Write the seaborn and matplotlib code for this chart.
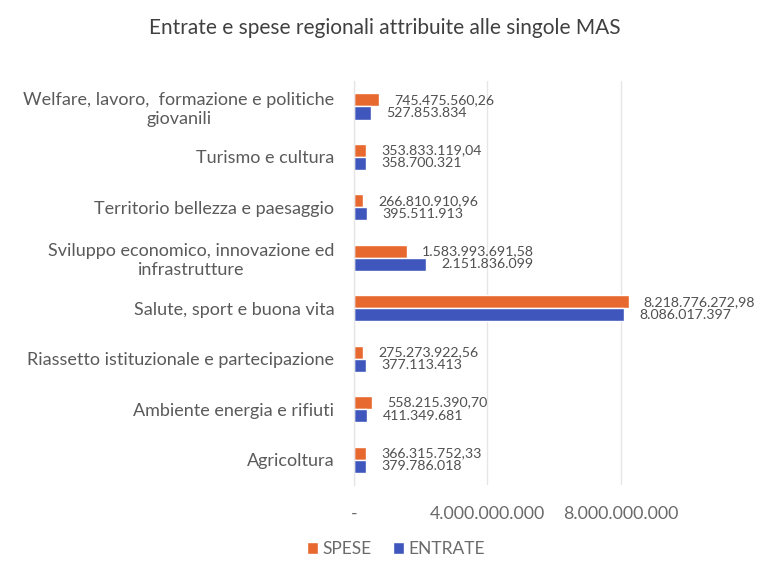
import matplotlib
matplotlib.use("Agg")
import matplotlib.pyplot as plt
import seaborn as sns
import pandas as pd
from matplotlib.patches import Patch

categories = [
    "Welfare, lavoro,  formazione e politiche\ngiovanili",
    "Turismo e cultura",
    "Territorio bellezza e paesaggio",
    "Sviluppo economico, innovazione ed\ninfrastrutture",
    "Salute, sport e buona vita",
    "Riassetto istituzionale e partecipazione",
    "Ambiente energia e rifiuti",
    "Agricoltura",
]
spese = [745475560.26, 353833119.04, 266810910.96, 1583993691.58,
         8218776272.98, 275273922.56, 558215390.70, 366315752.33]
entrate = [527853834, 358700321, 395511913, 2151836099,
           8086017397, 377113413, 411349681, 379786018]
series = ["SPESE", "ENTRATE"]
colors = ["#E8692F", "#3F57BD"]
x_ticks = [0, 4e9, 8e9]
x_ticklabels = ["-", "4.000.000.000", "8.000.000.000"]


def it_fmt(v, dec):
    s = f"{v:,.{dec}f}"
    return s.replace(",", "X").replace(".", ",").replace("X", ".")


df = pd.DataFrame({
    "cat": categories * 2,
    "serie": ["SPESE"] * len(categories) + ["ENTRATE"] * len(categories),
    "val": spese + entrate,
})

sns.set_theme(style="white")
plt.rcParams["font.family"] = ["Lato", "DejaVu Sans"]

fig = plt.figure(figsize=(7.69, 5.80), dpi=100)
ax = fig.add_axes([0.46, 0.164, 0.50, 0.696])

sns.barplot(data=df, y="cat", x="val", hue="serie", order=categories,
            hue_order=series, palette=colors, orient="h", width=0.52,
            ax=ax, legend=False, saturation=1)

labels = [[it_fmt(v, 2) for v in spese], [it_fmt(v, 0) for v in entrate]]
for cont, labs in zip(ax.containers, labels):
    ax.bar_label(cont, labels=labs, padding=11, fontsize=10.2, color="#505050")

ax.set_xlim(0, 11.5e9)
ax.set_xticks(x_ticks)
ax.set_xticklabels(x_ticklabels, fontsize=12.8, color="#6A6A6A")
ax.tick_params(axis="x", length=0, pad=15)
ax.tick_params(axis="y", length=0, pad=14)
for lab in ax.get_yticklabels():
    lab.set_fontsize(13)
    lab.set_color("#5A5A5A")
    lab.set_multialignment("center")
ax.set_xlabel("")
ax.set_ylabel("")
ax.xaxis.grid(True, color="#E6E6E6", linewidth=1)
ax.set_axisbelow(True)
for s in ["top", "right", "bottom"]:
    ax.spines[s].set_visible(False)
ax.spines["left"].set_color("#E6E6E6")
ax.spines["left"].set_linewidth(1)

fig.text(0.5, 0.952, "Entrate e spese regionali attribuite alle singole MAS",
         ha="center", va="center", fontsize=15, color="#404040")

handles = [Patch(facecolor=c, label=s) for c, s in zip(colors, series)]
fig.legend(handles=handles, loc="center", bbox_to_anchor=(0.515, 0.053),
           ncol=2, frameon=False, fontsize=12.5, handlelength=0.65,
           handleheight=0.65, handletextpad=0.25, columnspacing=1.2,
           labelcolor="#6A6A6A")

fig.savefig("out.png", dpi=100, facecolor="white")
